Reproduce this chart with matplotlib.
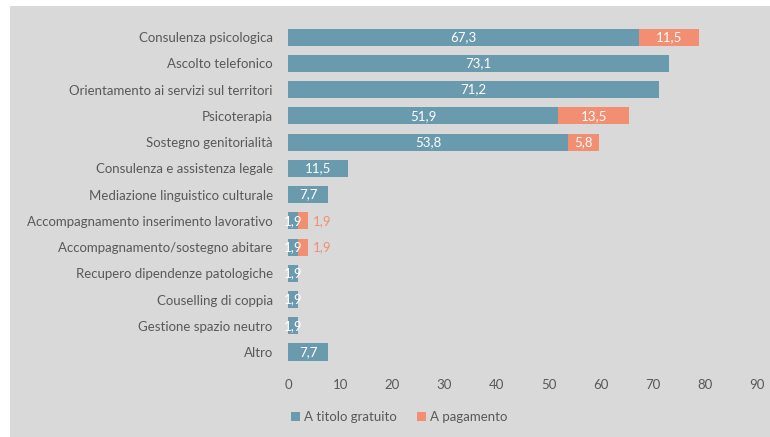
import matplotlib.pyplot as plt
from matplotlib.patches import Rectangle
import numpy as np

# data
categories = ['Consulenza psicologica', 'Ascolto telefonico', 'Orientamento ai servizi sul territori',
              'Psicoterapia', 'Sostegno genitorialità', 'Consulenza e assistenza legale',
              'Mediazione linguistico culturale', 'Accompagnamento inserimento lavorativo',
              'Accompagnamento/sostegno abitare', 'Recupero dipendenze patologiche',
              'Couselling di coppia', 'Gestione spazio neutro', 'Altro']
gratuito = [67.3, 73.1, 71.2, 51.9, 53.8, 11.5, 7.7, 1.9, 1.9, 1.9, 1.9, 1.9, 7.7]
pagamento = [11.5, 0, 0, 13.5, 5.8, 0, 0, 1.9, 1.9, 0, 0, 0, 0]
xticks = [0, 10, 20, 30, 40, 50, 60, 70, 80, 90]

blue = '#6a9aae'
orange = '#f28e72'
txt = '#595959'
plt.rcParams['font.family'] = ['Lato', 'DejaVu Sans']

fig = plt.figure(figsize=(7.7, 4.37), dpi=100, facecolor='white')
# grey panel behind the chart
fig.patches.append(Rectangle((10 / 770, 0), 1, 1 - 6 / 437, transform=fig.transFigure,
                             facecolor='#d9d9d9', edgecolor='none', zorder=-10))
ax = fig.add_axes([288 / 770, 0.1645, (757 - 288) / 770, 0.945 - 0.1645])
ax.set_facecolor('none')

y = np.arange(len(categories))
ax.barh(y, gratuito, height=0.65, color=blue, label='A titolo gratuito')
ax.barh(y, pagamento, left=gratuito, height=0.65, color=orange, label='A pagamento')

def fmt(v):
    return ('%.1f' % v).replace('.', ',')

for i in range(len(categories)):
    ax.text(gratuito[i] / 2, i, fmt(gratuito[i]), ha='center', va='center',
            color='white', fontsize=9.5)
    if pagamento[i] > 0:
        if pagamento[i] < 3:
            ax.text(gratuito[i] + pagamento[i] + 1, i, fmt(pagamento[i]), ha='left',
                    va='center', color=orange, fontsize=9.5)
        else:
            ax.text(gratuito[i] + pagamento[i] / 2, i, fmt(pagamento[i]), ha='center',
                    va='center', color='white', fontsize=9.5)

ax.set_xlim(0, 90)
ax.set_ylim(len(categories) - 0.5, -0.5)
ax.set_xticks(xticks)
ax.set_yticks(y)
ax.set_yticklabels(categories)
ax.tick_params(axis='both', length=0, colors=txt, labelsize=9.5)
ax.tick_params(axis='y', pad=11)
ax.tick_params(axis='x', pad=10)
for s in ax.spines.values():
    s.set_visible(False)

fig.legend(loc='center left', bbox_to_anchor=(279 / 770, 1 - 417 / 437), ncol=2, frameon=False,
           handlelength=0.7, handleheight=0.7, handletextpad=0.3, columnspacing=1.5,
           fontsize=9.5, labelcolor=txt)

fig.savefig('out.png', dpi=100, facecolor='white')
